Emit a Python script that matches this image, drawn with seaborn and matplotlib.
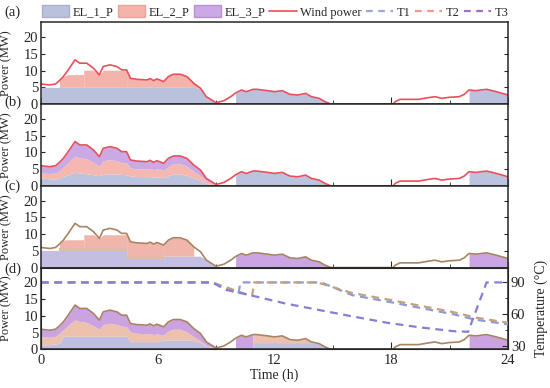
import matplotlib
matplotlib.use("Agg")
import matplotlib.pyplot as plt
import numpy as np
import pandas as pd
import seaborn as sns
from matplotlib.lines import Line2D
from matplotlib.patches import Patch

# wind power (h, MW)
hours = [0, 0.45, 0.75, 0.95, 1.15, 1.4, 1.75, 2.0, 2.2, 2.35, 2.7, 3.0, 3.2, 3.55, 3.9, 4.15,
         4.4, 4.6, 4.9, 5.45, 5.6, 5.8, 5.95, 6.1, 6.3, 6.55, 6.8, 7.15, 7.5, 7.85, 8.2, 8.5, 9.0,
         9.4, 9.75, 10.0, 10.3, 10.55, 10.9, 11.1, 11.65, 12.0, 12.4, 12.8, 13.2, 13.6, 13.9, 14.3,
         14.6, 14.9, 18.1, 18.2, 18.45, 18.9, 19.4, 19.9, 20.25, 20.6, 20.95, 21.5, 21.75, 22.0,
         22.35, 22.9, 23.4, 24.0]
wind = [6.0, 5.7, 6.0, 7.0, 8.2, 10.2, 13.2, 12.2, 12.2, 12.2, 10.7, 8.7, 11.2, 11.7, 11.2, 10.2,
        10.2, 7.7, 7.4, 7.2, 7.6, 7.0, 7.5, 7.2, 6.7, 8.2, 8.9, 8.9, 8.2, 6.2, 4.7, 2.2, 0.4,
        1.0, 2.2, 3.3, 4.2, 3.7, 4.4, 4.4, 4.0, 3.7, 4.0, 2.9, 2.7, 3.2, 2.2, 1.7,
        0.7, 0.0, 0.0, 0.7, 1.4, 1.4, 1.4, 1.9, 2.2, 1.7, 2.0, 2.2, 2.9, 4.2,
        4.0, 4.4, 3.7, 2.7]

# panel (b) and (d): electrolyser power for the first 33 points (0-9 h)
b_el1 = [2.3, 2.1, 2.0, 2.3, 2.8, 3.3, 4.0, 3.8, 3.7, 3.6, 3.3, 3.0, 3.4, 3.6, 3.5, 3.4, 3.3,
         2.9, 2.8, 2.7, 2.8, 2.6, 2.7, 2.6, 2.5, 3.0, 3.5, 3.5, 3.1, 2.3, 1.5, 0.7, 0.0]
b_el2 = [1.5, 1.6, 1.8, 2.2, 2.8, 3.7, 4.8, 4.5, 4.5, 4.4, 3.7, 2.8, 4.1, 4.2, 4.0, 3.5, 3.5,
         2.4, 2.3, 2.3, 2.4, 2.2, 2.4, 2.4, 2.1, 2.8, 3.1, 3.1, 2.7, 2.0, 1.5, 0.7, 0.2]
d_el1 = [1.3, 1.4, 1.6, 1.8, 3.9, 3.9, 3.9, 3.9, 3.9, 3.9, 3.9, 3.9, 3.9, 3.9, 3.9, 3.9, 3.9,
         2.3, 2.3, 2.3, 2.3, 2.3, 2.3, 2.5, 2.8, 2.8, 2.8, 2.8, 2.8, 2.6, 2.0, 1.0, 0.0]
d_el2 = [2.5, 2.2, 2.3, 3.0, 1.9, 3.3, 4.9, 4.4, 4.3, 4.1, 3.1, 2.1, 3.5, 3.9, 3.5, 3.0, 2.9,
         2.9, 2.5, 2.3, 2.5, 2.1, 2.3, 2.0, 1.5, 2.7, 3.2, 3.2, 2.4, 1.2, 0.5, 0.2, 0.2]

# step-wise operating levels: (start h, end h, upper level MW, lower level MW); None = up to wind
a_el1 = [(0, 9.0, 5.0, 0), (10.0, 14.9, 5.0, 0), (22.0, 24.0, 5.0, 0)]
a_el2 = [(0.95, 2.2, 8.8, 5.0), (2.2, 4.4, 10.1, 5.0), (4.4, 8.2, None, 5.0)]
c_low = [(0, 4.4, 4.8, 0), (4.4, 6.3, 2.3, 0), (6.3, 9.0, 3.4, 0)]
c_mid = [(0.95, 4.4, 5.8, 4.8), (4.4, 6.3, 3.3, 2.3)]
c_top = [(0.95, 2.2, 8.3, 5.8), (2.2, 4.4, 9.8, 5.8), (4.4, 6.3, None, 3.3), (6.3, 7.85, None, 3.4)]
c_el3 = [(10.0, 14.9, None, 0), (22.0, 24.0, None, 0)]
b_late = [(10.0, 14.9, None, 0), (22.0, 24.0, None, 0)]
d_late_el3 = [(10.0, 10.9, None, 0), (22.0, 24.0, None, 0)]
d_late_el1 = [(10.9, 14.9, 2.0, 0)]
d_late_el2 = [(10.9, 14.9, None, 2.0)]

# electrolyser temperatures (panel d)
t1_h = [0, 8.8, 10.15, 10.25, 14.4, 16.0, 17.8, 19.5, 21.2, 22.3, 24]
t1_v = [90, 90, 79.5, 90, 90, 78, 72, 66, 60, 55, 50.5]
t2_h = [0, 8.8, 10.85, 10.95, 14.2, 16.0, 17.8, 19.5, 21.2, 22.3, 24]
t2_v = [90, 90, 77, 90, 90, 80, 74, 68, 62, 57, 52]
t3_h = [0, 8.8, 9.5, 10.6, 12.6, 14.3, 16.0, 17.8, 19.5, 21.2, 21.95, 22.9, 24]
t3_v = [90, 90, 83, 78.6, 70, 64, 58, 52, 47.6, 44.1, 43.5, 90, 90]

legend_labels = ["EL_1_P", "EL_2_P", "EL_3_P", "Wind power", "T1", "T2", "T3"]
panel_tags = ["(a)", "(b)", "(c)", "(d)"]

sns.set_style("ticks")
plt.rcParams["font.family"] = ["Liberation Serif", "DejaVu Serif"]
plt.rcParams["font.size"] = 9

h = np.array(hours)
w = np.array(wind)
n0 = len(b_el1)


def seg_fill(ax, segs, color, alpha=1.0):
    for t0, t1, top, bot in segs:
        m = (h >= t0 - 1e-9) & (h <= t1 + 1e-9)
        x = h[m]
        hi = w[m] if top is None else np.minimum(w[m], top)
        lo = np.minimum(w[m], bot)
        ax.fill_between(x, lo, hi, color=color, alpha=alpha, lw=0)


fig = plt.figure(figsize=(5.5, 3.88), dpi=100)
axes = fig.subplots(4, 1, sharex=True, gridspec_kw=dict(hspace=0))
fig.subplots_adjust(left=0.0745, right=0.9236, bottom=0.0997, top=0.9425)

# (a) priority allocation
ax = axes[0]
seg_fill(ax, a_el1, "#BAC1DD")
seg_fill(ax, a_el2, "#F4B3AB")

# (b) shared allocation
ax = axes[1]
e1 = np.array(b_el1)
e12 = e1 + np.array(b_el2)
ax.fill_between(h[:n0], 0, e1, color="#BCC3DE", lw=0)
ax.fill_between(h[:n0], e1, e12, color="#F4B8B0", lw=0)
ax.fill_between(h[:n0], e12, w[:n0], color="#CAA9E4", lw=0)
seg_fill(ax, b_late, "#BCC3DE")

# (c)
ax = axes[2]
seg_fill(ax, c_low, "#C4BEE3")
seg_fill(ax, c_mid, "#D8C0A6")
seg_fill(ax, c_top, "#F0B6AC")
seg_fill(ax, c_el3, "#C9A6E3")

# (d)
ax = axes[3]
e1 = np.array(d_el1)
e12 = e1 + np.array(d_el2)
ax.fill_between(h[:n0], 0, e1, color="#BFC0DF", lw=0)
ax.fill_between(h[:n0], e1, e12, color="#EDC1AE", lw=0)
ax.fill_between(h[:n0], e12, w[:n0], color="#CBA3E1", lw=0)
seg_fill(ax, d_late_el3, "#CBA3E1")
seg_fill(ax, d_late_el1, "#BFC0DF")
seg_fill(ax, d_late_el2, "#EDC1AE")

df_wind = pd.DataFrame({"Time": hours, "Power": wind})
for i, ax in enumerate(axes):
    lc = "#E8505B" if i < 2 else "#A88463"
    sns.lineplot(data=df_wind, x="Time", y="Power", ax=ax, color=lc, lw=1.2, legend=False)
    ax.set_xlim(0, 24)
    ax.set_ylim(0, 24.4)
    ax.set_yticks([0, 5, 10, 15, 20])
    ax.set_xticks([0, 6, 12, 18, 24])
    ax.set_xticks([3, 9, 15, 21], minor=True)
    ax.tick_params(axis="y", direction="in", length=3, right=(i < 3), labelsize=10.5, pad=2)
    ax.tick_params(axis="x", which="major", direction="in", length=5, labelsize=10.5)
    ax.tick_params(axis="x", which="minor", direction="in", length=3)
    ax.set_ylabel("Power (MW)", fontsize=9)
    ax.yaxis.set_label_coords(-0.061, 0.5)
    ax.set_xlabel("")
    for s in ax.spines.values():
        s.set_linewidth(1.1)
    fig.text(0.023, [0.969, 0.737, 0.521, 0.307][i], panel_tags[i], ha="center", va="center",
             fontsize=10.5)

axes[3].set_xlabel("Time (h)", fontsize=10, labelpad=1)

# temperatures on twin axis
tax = axes[3].twinx()
for th, tv, c in [(t1_h, t1_v, "#8F9BD8"), (t2_h, t2_v, "#C0A27F"), (t3_h, t3_v, "#877ED6")]:
    sns.lineplot(x=th, y=tv, ax=tax, color=c, lw=1.6, dashes=False, legend=False,
                 linestyle=(0, (3.5, 2.5)))
tax.set_ylim(27, 104)
tax.set_yticks([30, 60, 90])
tax.set_yticks([45, 75], minor=True)
tax.tick_params(axis="y", which="major", direction="in", length=4, labelsize=10.5, pad=2)
tax.tick_params(axis="y", which="minor", direction="in", length=2.5)
tax.set_ylabel("Temperature (°C)", fontsize=10)
tax.yaxis.set_label_coords(1.056, 0.5)

handles = [
    Patch(facecolor="#BAC1DD", edgecolor="#A9B0D0"),
    Patch(facecolor="#F4B3AB", edgecolor="#EEA49B"),
    Patch(facecolor="#CAA9E4", edgecolor="#B98FD9"),
    Line2D([], [], color="#E8505B", lw=1.2),
    Line2D([], [], color="#9DA7D8", lw=1.6, ls=(0, (3, 2.5))),
    Line2D([], [], color="#F4988F", lw=1.6, ls=(0, (3, 2.5))),
    Line2D([], [], color="#A56BCB", lw=1.6, ls=(0, (3, 2.5))),
]
fig.legend(handles, legend_labels, loc="center", bbox_to_anchor=(0.5, 0.969), ncol=7,
           frameon=False, fontsize=9, handlelength=2.2, handleheight=1.1,
           columnspacing=0.35, handletextpad=0.25, borderaxespad=0, borderpad=0)

fig.savefig("out.png", dpi=100)
